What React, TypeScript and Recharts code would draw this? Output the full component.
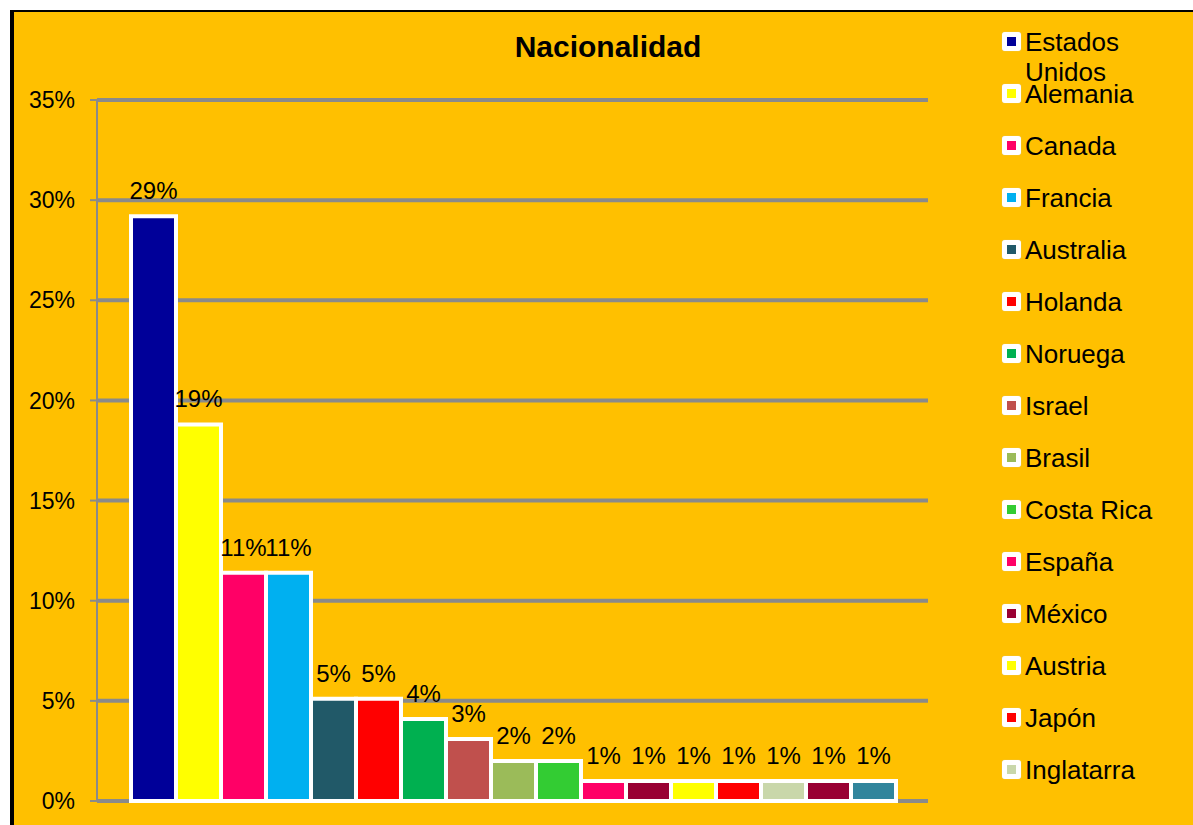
import React from "react"
import { BarChart, Bar, XAxis, YAxis, CartesianGrid, LabelList } from "recharts"

const countries = [
  "Estados Unidos",
  "Alemania",
  "Canada",
  "Francia",
  "Australia",
  "Holanda",
  "Noruega",
  "Israel",
  "Brasil",
  "Costa Rica",
  "España",
  "México",
  "Austria",
  "Japón",
  "Inglatarra",
]

const values = [29.2, 18.8, 11.4, 11.4, 5.1, 5.1, 4.1, 3.1, 2.0, 2.0, 1.0, 1.0, 1.0, 1.0, 1.0, 1.0, 1.0]

const colors = [
  "#000099",
  "#FFFF00",
  "#FF0066",
  "#00B0F0",
  "#215968",
  "#FF0000",
  "#00B050",
  "#C0504D",
  "#9BBB59",
  "#33CC33",
  "#FF0066",
  "#990033",
  "#FFFF00",
  "#FF0000",
  "#C9D7AA",
  "#990033",
  "#31859C",
]

const yTicks = [0, 5, 10, 15, 20, 25, 30, 35]

const keys = values.map((_, i) => `s${i}`)
const row: Record<string, string | number> = { name: "Nacionalidad" }
keys.forEach((k, i) => {
  row[k] = values[i]
})
const data = [row]

const font = "'Liberation Sans', Arial, sans-serif"

export default function App() {
  return (
    <div
      style={{
        position: "fixed",
        left: 0,
        top: 0,
        width: 1193,
        height: 825,
        overflow: "hidden",
        background: "#fff",
        fontFamily: font,
      }}
    >
      <div
        style={{
          position: "absolute",
          left: 10,
          top: 10,
          width: 1200,
          height: 830,
          background: "#FFC000",
          borderLeft: "4px solid #000",
          borderTop: "2px solid #000",
        }}
      >
        <div
          style={{
            position: "absolute",
            left: 608 - 14 - 200,
            top: 19.5,
            width: 400,
            textAlign: "center",
            fontSize: 30,
            lineHeight: "30px",
            fontWeight: "bold",
            color: "#000",
          }}
        >
          Nacionalidad
        </div>
        <div style={{ position: "absolute", left: 0, top: 0 }}>
          <BarChart
            width={1179}
            height={813}
            data={data}
            margin={{ top: 88, right: 265, bottom: 24, left: 0 }}
            barGap={0}
            barCategoryGap={34}
          >
            <CartesianGrid horizontal vertical={false} stroke="#8A8A8A" strokeWidth={4} />
            <XAxis dataKey="name" hide />
            <YAxis
              width={83}
              domain={[0, 35]}
              ticks={yTicks}
              interval={0}
              tickFormatter={(v) => `${v}%`}
              tick={{ fill: "#000", fontSize: 23, fontFamily: font }}
              tickLine={{ stroke: "#8A8A8A", strokeWidth: 2 }}
              axisLine={{ stroke: "#8A8A8A", strokeWidth: 2 }}
              tickSize={7}
              tickMargin={15}
            />
            {keys.map((k, i) => (
              <Bar
                key={k}
                dataKey={k}
                fill={colors[i]}
                stroke="#fff"
                strokeWidth={4}
                isAnimationActive={false}
              >
                <LabelList
                  dataKey={k}
                  position="top"
                  offset={17}
                  formatter={(v: any) => `${Math.round(Number(v))}%`}
                  fill="#000"
                  fontSize={24}
                  fontFamily={font}
                />
              </Bar>
            ))}
          </BarChart>
        </div>
      </div>
      <div style={{ position: "absolute", left: 1002, top: 27 }}>
        {countries.map((c, i) => (
          <div key={c} style={{ display: "flex", alignItems: "flex-start", height: 52 }}>
            <div
              style={{
                width: 9,
                height: 9,
                marginTop: 5,
                background: colors[i],
                border: "5px solid #fff",
                borderRadius: 3,
                boxShadow: "0 0 1px #ccc",
                flexShrink: 0,
              }}
            />
            <div
              style={{
                marginLeft: 4,
                width: 150,
                fontSize: 26,
                lineHeight: "30px",
                color: "#000",
              }}
            >
              {c}
            </div>
          </div>
        ))}
      </div>
    </div>
  )
}
